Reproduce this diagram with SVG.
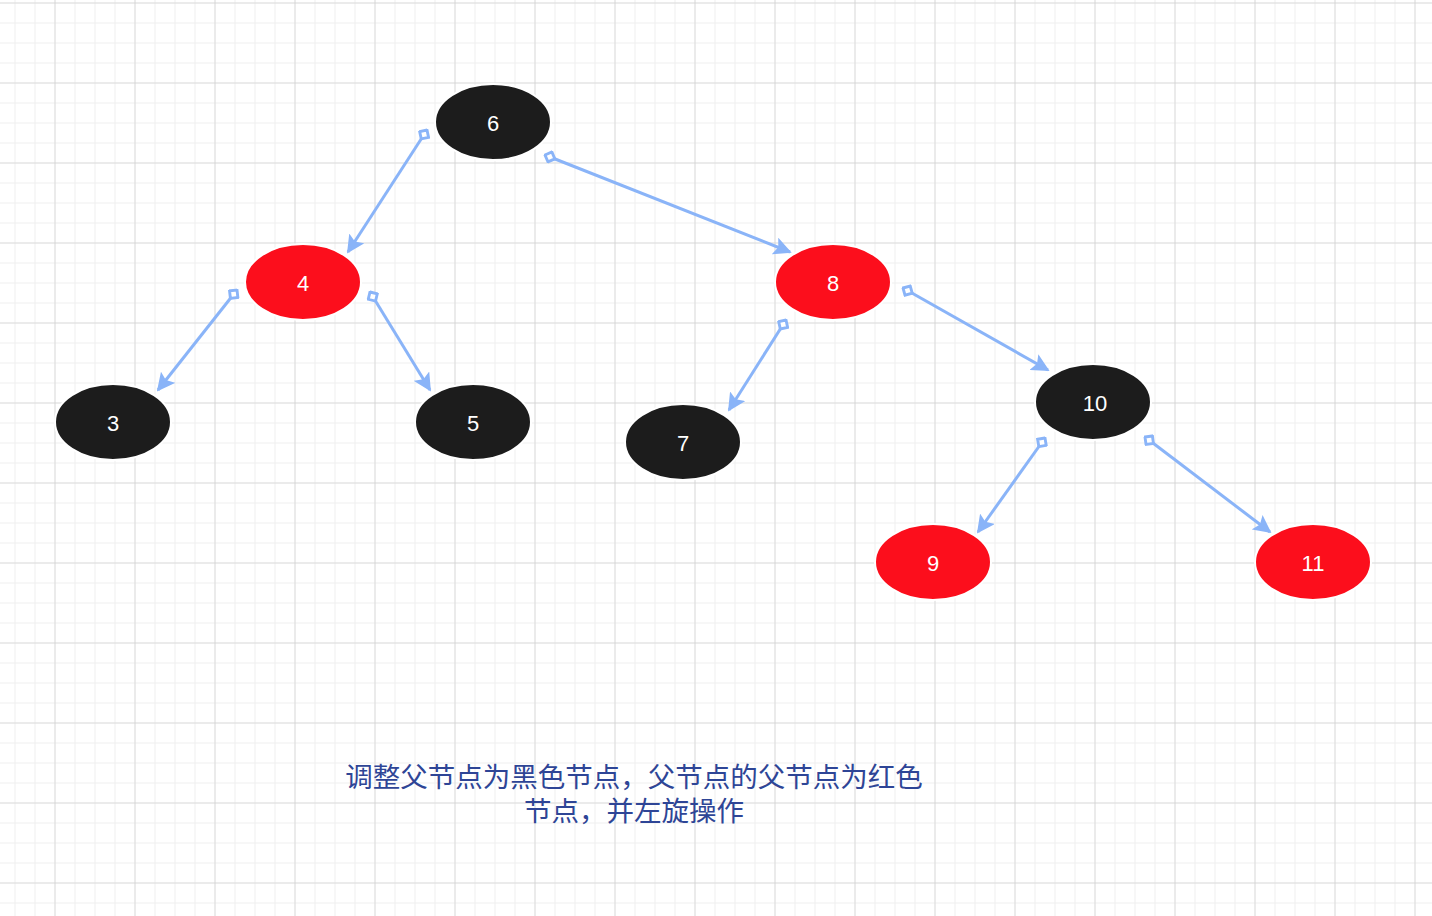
<svg xmlns="http://www.w3.org/2000/svg" width="1432" height="916" viewBox="0 0 1432 916">
<defs>
<pattern id="minor" width="20" height="20" patternUnits="userSpaceOnUse" x="14.5" y="2.5"><path d="M0 0H20M0 0V20" fill="none" stroke="#efefef" stroke-width="2"/></pattern>
<pattern id="major" width="80" height="80" patternUnits="userSpaceOnUse" x="54.5" y="2.5"><path d="M0 0H80M0 0V80" fill="none" stroke="#c8c8c8" stroke-width="1"/></pattern>
<marker id="arr" viewBox="0 0 10 10" refX="9" refY="5" markerWidth="6" markerHeight="6" orient="auto" markerUnits="strokeWidth"><path d="M0 0L10 5L0 10L2 5Z" fill="#8ab4f8"/></marker>
<marker id="dia" viewBox="0 0 14 14" refX="1.5" refY="7" markerWidth="4.5" markerHeight="4.5" orient="auto" markerUnits="strokeWidth"><path d="M1.5 7L7 1.5L12.5 7L7 12.5Z" fill="#fff" stroke="#8ab4f8" stroke-width="3"/></marker>
<style>
.b{fill:#1c1c1c;stroke:#fff;stroke-width:2}
.r{fill:#fc0e1c;stroke:#fff;stroke-width:2}
.t{fill:#fff;font-family:"Liberation Sans",Arial,sans-serif;font-size:22px;text-anchor:middle;dominant-baseline:central}
.e{fill:none;stroke:#8ab4f8;stroke-width:3;marker-start:url(#dia);marker-end:url(#arr)}
.c{fill:#2e4596;font-family:"Noto Sans CJK SC",sans-serif;font-size:27.5px;text-anchor:middle}
</style>
</defs>
<rect width="1432" height="916" fill="#fff"/>
<rect width="1432" height="916" fill="url(#minor)"/>
<rect width="1432" height="916" fill="url(#major)"/>
<g id="connectors">
<path class="e" d="M427 130L348 252"/>
<path class="e" d="M545 155L790 252"/>
<path class="e" d="M237 290L158 390"/>
<path class="e" d="M370 292L430 390"/>
<path class="e" d="M786 320L729 410"/>
<path class="e" d="M903 288L1048 370"/>
<path class="e" d="M1045 438L978 532"/>
<path class="e" d="M1145 437L1270 532"/>
</g>
<g id="n6"><ellipse class="b" cx="493" cy="122" rx="58" ry="38"/><text class="t" x="493" y="123">6</text></g>
<g id="n4"><ellipse class="r" cx="303" cy="282" rx="58" ry="38"/><text class="t" x="303" y="283">4</text></g>
<g id="n8"><ellipse class="r" cx="833" cy="282" rx="58" ry="38"/><text class="t" x="833" y="283">8</text></g>
<g id="n3"><ellipse class="b" cx="113" cy="422" rx="58" ry="38"/><text class="t" x="113" y="423">3</text></g>
<g id="n5"><ellipse class="b" cx="473" cy="422" rx="58" ry="38"/><text class="t" x="473" y="423">5</text></g>
<g id="n7"><ellipse class="b" cx="683" cy="442" rx="58" ry="38"/><text class="t" x="683" y="443">7</text></g>
<g id="n10"><ellipse class="b" cx="1093" cy="402" rx="58" ry="38"/><text class="t" x="1095" y="403">10</text></g>
<g id="n9"><ellipse class="r" cx="933" cy="562" rx="58" ry="38"/><text class="t" x="933" y="563">9</text></g>
<g id="n11"><ellipse class="r" cx="1313" cy="562" rx="58" ry="38"/><text class="t" x="1313" y="563">11</text></g>
<g id="caption"><text class="c" x="634" y="787">调整父节点为黑色节点，父节点的父节点为红色</text><text class="c" x="634" y="821">节点，并左旋操作</text></g>
</svg>
